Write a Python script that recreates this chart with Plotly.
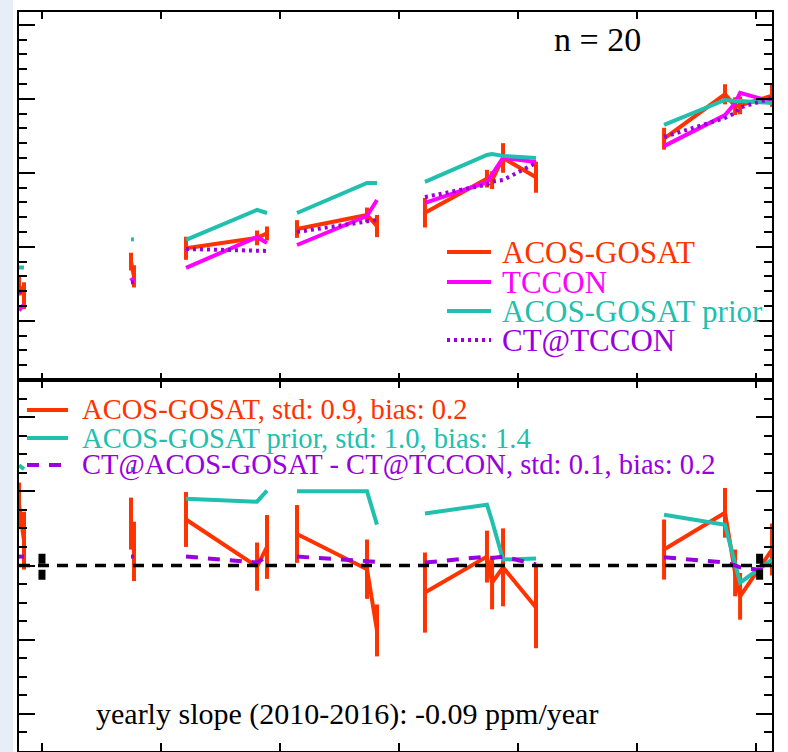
import plotly.graph_objects as go

# ---------------- data (None = gap between observation groups) ----------------
years = [2009.807, 2009.849, None,
         2010.748, 2010.773, None,
         2011.210, 2011.807, 2011.891, None,
         2012.143, 2012.731, 2012.815, None,
         2013.218, 2013.739, 2013.782, 2013.874, 2014.151, None,
         2015.227, 2015.739, 2015.824, 2015.866, 2016.134]

# top panel: XCO2 (ppm)
acos_gosat = [387.4, 386.7, None, 389.0, 388.0, None, 389.9, 390.6, 390.9, None,
              391.2, 392.15, 391.4, None, 392.3, 394.6, 394.5, 396.0, 394.7, None,
              397.3, 400.3, 399.5, 399.55, 400.2]
acos_gosat_err = [0.7, 0.9, None, 0.6, 0.75, None, 0.78, 0.5, 0.47, None,
                  0.6, 0.5, 0.75, None, 1.0, 0.6, 0.6, 1.0, 1.05, None,
                  0.74, 0.68, 0.6, 0.6, 0.74]
tccon = [385.7, 386.1, None, 387.9, 387.6, None, 388.57, 390.66, 390.26, None,
         390.12, 392.08, 393.16, None, 392.96, 394.36, 394.9, 396.0, 395.73, None,
         396.8, 398.9, 399.7, 400.4, 399.8]
acos_prior = [388.6, 388.6, None, 390.5, 390.5, None, 390.46, 392.49, 392.28, None,
              392.28, 394.31, 394.31, None, 394.38, 396.2, 396.27, 396.14, 396.0, None,
              398.23, 399.92, 399.85, 399.85, 399.72]
ct_tccon = [387.0, 386.9, None, 387.6, 387.6, None, 389.85, 389.75, 389.72, None,
            391.0, 391.68, 391.81, None, 393.36, 394.2, 394.4, 394.51, 395.66, None,
            397.42, 398.7, 399.04, 399.4, 400.05]

# bottom panel: differences to TCCON (ppm)
acos_diff = [1.64, 0.67, None, 1.13, 0.38, None, 1.24, -0.03, 0.5, None,
             0.85, -0.1, -1.75, None, -0.73, 0.24, -0.46, -0.05, -1.13, None,
             0.43, 1.42, -0.2, -0.83, 0.43]
acos_diff_err = [0.6, 0.78, None, 0.7, 0.8, None, 0.74, 0.65, 0.86, None,
                 0.78, 0.8, 0.7, None, 1.08, 0.7, 0.72, 1.05, 1.1, None,
                 0.81, 0.67, 0.63, 0.63, 0.7]
prior_diff = [2.7, 2.6, None, 2.6, 2.6, None, 1.80, 1.72, 2.02, None,
              2.0, 2.0, 1.1, None, 1.40, 1.64, 1.2, 0.16, 0.19, None,
              1.37, 1.10, 0.05, -0.46, 0.16]
ct_diff = [0.24, 0.24, None, 0.24, 0.24, None, 0.24, 0.08, 0.24, None,
           0.24, 0.11, 0.1, None, 0.08, 0.24, 0.2, 0.24, 0.03, None,
           0.22, 0.08, 0.0, -0.05, -0.16]

# yearly slope fit end-point uncertainty bars
slope_x = [2010.0, 2016.03]
slope_y = [-0.1, -0.1]
slope_err = [0.42, 0.42]

top_labels = ["ACOS-GOSAT", "TCCON", "ACOS-GOSAT prior", "CT@TCCON"]
bottom_labels = ["ACOS-GOSAT, std: 0.9, bias: 0.2",
                 "ACOS-GOSAT prior, std: 1.0, bias: 1.4",
                 "CT@ACOS-GOSAT - CT@TCCON, std: 0.1, bias: 0.2"]
n_text = "n\u00a0=\u00a020"
slope_text = "yearly slope (2010-2016): -0.09 ppm/year"

# ---------------- styles ----------------
RED = "#ff3300"
MAG = "#ff00ff"
TEAL = "#20bfae"
PURP = "#9900dd"
FONT = "Liberation Serif, Times New Roman, serif"

W, H = 788, 752
L, R, T, B = 19, 16, 12, 1
PW, PH = W - L - R, H - T - B
split = (H - B - 380) / PH


def px(x):
    return (x - L) / PW


def py(y):
    return (H - B - y) / PH


fig = go.Figure()

# top panel
fig.add_trace(go.Scatter(x=years, y=acos_gosat, mode="lines", line=dict(color=RED, width=4),
                         error_y=dict(type="data", array=acos_gosat_err, color=RED, thickness=4, width=0),
                         xaxis="x2", yaxis="y2"))
fig.add_trace(go.Scatter(x=years, y=tccon, mode="lines", line=dict(color=MAG, width=4),
                         xaxis="x2", yaxis="y2"))
fig.add_trace(go.Scatter(x=years, y=acos_prior, mode="lines", line=dict(color=TEAL, width=4),
                         xaxis="x2", yaxis="y2"))
fig.add_trace(go.Scatter(x=years, y=ct_tccon, mode="lines", line=dict(color=PURP, width=4, dash="3px,4px"),
                         xaxis="x2", yaxis="y2"))

# bottom panel
fig.add_trace(go.Scatter(x=years, y=acos_diff, mode="lines", line=dict(color=RED, width=4),
                         error_y=dict(type="data", array=acos_diff_err, color=RED, thickness=4, width=0)))
fig.add_trace(go.Scatter(x=years, y=prior_diff, mode="lines", line=dict(color=TEAL, width=4)))
fig.add_trace(go.Scatter(x=years, y=ct_diff, mode="lines", line=dict(color=PURP, width=4, dash="12px,10px")))

# zero line
fig.add_trace(go.Scatter(x=[2009.807, 2016.134], y=[0, 0], mode="lines",
                         line=dict(color="black", width=3.5, dash="11px,8px")))
# slope uncertainty bars (dashed verticals)
sx, sy = [], []
for xv, yv, ev in zip(slope_x, slope_y, slope_err):
    sx += [xv, xv, None]
    sy += [yv + ev, yv - ev, None]
fig.add_trace(go.Scatter(x=sx, y=sy, mode="lines", line=dict(color="black", width=7, dash="10px,6px")))

axis_common = dict(showline=True, linecolor="black", linewidth=2, mirror="ticks",
                   ticks="inside", tickcolor="black", tickwidth=2, showgrid=False,
                   zeroline=False, showticklabels=False)

fig.update_layout(
    width=W, height=H,
    margin=dict(l=L, r=R, t=T, b=B),
    paper_bgcolor="white", plot_bgcolor="white",
    showlegend=False,
    xaxis=dict(axis_common, domain=[0, 1], anchor="y", range=[2009.807, 2016.134],
               tickvals=[2010, 2011, 2012, 2013, 2014, 2015, 2016], ticklen=8),
    yaxis=dict(axis_common, domain=[0, split], anchor="x", range=[-5, 5],
               tickvals=[-4, -2, 0, 2, 4], ticklen=16,
               minor=dict(dtick=0.5, tick0=0, ticklen=8, tickwidth=2, tickcolor="black", ticks="inside")),
    xaxis2=dict(axis_common, domain=[0, 1], anchor="y2", matches="x", range=[2009.807, 2016.134],
                tickvals=[2010, 2011, 2012, 2013, 2014, 2015, 2016], ticklen=7),
    yaxis2=dict(axis_common, domain=[split, 1], anchor="x2", range=[381, 405.86],
                tickvals=[385, 390, 395, 400, 405], ticklen=16,
                minor=dict(dtick=1, tick0=0, ticklen=8, tickwidth=2, tickcolor="black", ticks="inside")),
)

shapes = [dict(type="rect", xref="paper", yref="paper", x0=px(0), x1=px(13), y0=py(H), y1=py(0),
               fillcolor="#e8eef8", line=dict(width=0), layer="below")]
annotations = []

# top legend
top_cols = [RED, MAG, TEAL, PURP]
top_dash = ["solid", "solid", "solid", "3px,4px"]
top_y = [252, 282, 311, 340]
for lab, col, dsh, yy in zip(top_labels, top_cols, top_dash, top_y):
    shapes.append(dict(type="line", xref="paper", yref="paper", x0=px(447), x1=px(491),
                       y0=py(yy), y1=py(yy), line=dict(color=col, width=4, dash=dsh)))
    annotations.append(dict(x=px(501), y=py(yy), xref="paper", yref="paper", text=lab,
                            showarrow=False, xanchor="left", yanchor="middle", borderpad=0,
                            font=dict(family=FONT, size=31, color=col)))

# bottom legend
bot_cols = [RED, TEAL, PURP]
bot_dash = ["solid", "solid", "12px,10px"]
bot_y = [410, 438, 465]
for lab, col, dsh, yy in zip(bottom_labels, bot_cols, bot_dash, bot_y):
    shapes.append(dict(type="line", xref="paper", yref="paper", x0=px(27), x1=px(68),
                       y0=py(yy), y1=py(yy), line=dict(color=col, width=4, dash=dsh)))
    annotations.append(dict(x=px(81), y=py(yy), xref="paper", yref="paper", text=lab,
                            showarrow=False, xanchor="left", yanchor="middle", borderpad=0,
                            font=dict(family=FONT, size=28.6, color=col)))

annotations.append(dict(x=px(597), y=py(40), xref="paper", yref="paper", text=n_text,
                        showarrow=False, xanchor="center", yanchor="middle",
                        font=dict(family=FONT, size=34, color="black")))
annotations.append(dict(x=px(94), y=py(714), xref="paper", yref="paper", text=slope_text,
                        showarrow=False, xanchor="left", yanchor="middle",
                        font=dict(family=FONT, size=30, color="black")))

fig.update_layout(shapes=shapes, annotations=annotations)
fig.write_html("out.html")
